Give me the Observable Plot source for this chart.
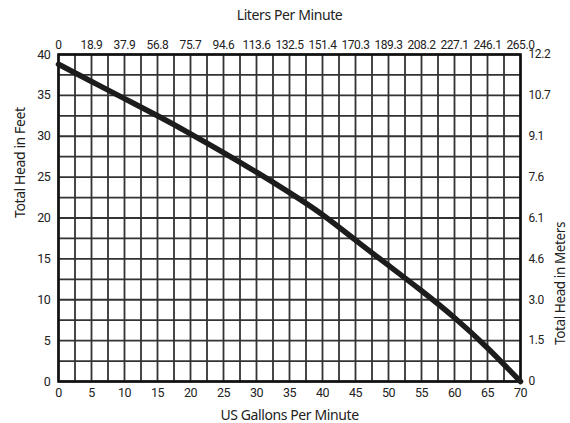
<!DOCTYPE html>
<html>
<head>
<meta charset="utf-8">
<script src="https://cdn.jsdelivr.net/npm/d3@7"></script>
<script src="https://cdn.jsdelivr.net/npm/@observablehq/plot@0.6"></script>
<style>
  html, body { margin: 0; padding: 0; background: #fff; }
  svg { display: block; }
</style>
</head>
<body>
<div id="chart"></div>
<script>
// Pump curve
const gpm  = [0, 5, 10, 15, 20, 25, 30, 35, 40, 45, 50, 55, 60, 65, 70];
const feet = [38.8, 36.7, 34.6, 32.5, 30.3, 28.0, 25.6, 23.1, 20.4, 17.3, 14.2, 11.1, 7.8, 4.1, 0];

// Axis ticks and secondary labels
const gpmTicks = [0, 5, 10, 15, 20, 25, 30, 35, 40, 45, 50, 55, 60, 65, 70];
const literLabels = ["0", "18.9", "37.9", "56.8", "75.7", "94.6", "113.6", "132.5", "151.4", "170.3", "189.3", "208.2", "227.1", "246.1", "265.0"];
const feetTicks = [0, 5, 10, 15, 20, 25, 30, 35, 40];
const meterLabels = ["0", "1.5", "3.0", "4.6", "6.1", "7.6", "9.1", "10.7", "12.2"];

const xGrid = d3.range(0, 70.01, 2.5);
const yGrid = d3.range(0, 40.01, 2.5);

const data = gpm.map((g, i) => ({gpm: g, feet: feet[i]}));

const tickFont = "Roboto, sans-serif";
const titleFont = "'Noto Sans', 'Open Sans', sans-serif";

const chart = Plot.plot({
  width: 570,
  height: 423,
  marginLeft: 58,
  marginRight: 50,
  marginTop: 54,
  marginBottom: 42,
  style: {background: "#fff", fontFamily: tickFont, fontSize: "12px", color: "#222", letterSpacing: "-0.4px"},
  x: {domain: [0, 70]},
  y: {domain: [0, 40]},
  marks: [
    Plot.ruleX(xGrid, {stroke: "#333", strokeWidth: 1.8}),
    Plot.ruleY(yGrid, {stroke: "#333", strokeWidth: 1.8}),
    Plot.frame({stroke: "#111", strokeWidth: 2.6}),
    Plot.line(data, {x: "gpm", y: "feet", curve: "natural", stroke: "#1c1c1c", strokeWidth: 5.5}),
    Plot.axisX(gpmTicks, {anchor: "bottom", tickSize: 0, tickPadding: 7, label: null, fontSize: 12.5}),
    Plot.axisX(gpmTicks, {anchor: "top", tickSize: 0, tickPadding: 6, label: null, fontSize: 12,
      tickFormat: (d) => literLabels[gpmTicks.indexOf(d)]}),
    Plot.axisY(feetTicks, {anchor: "left", tickSize: 0, tickPadding: 8, label: null, fontSize: 12.5}),
    Plot.axisY(feetTicks, {anchor: "right", tickSize: 0, tickPadding: 8, label: null, fontSize: 12,
      tickFormat: (d) => meterLabels[feetTicks.indexOf(d)]}),
    Plot.text(["US Gallons Per Minute"], {frameAnchor: "bottom", dy: 38, fontSize: 14, fontFamily: titleFont, fill: "#222", letterSpacing: "0px"}),
    Plot.text(["Liters Per Minute"], {frameAnchor: "top", dy: -44, fontSize: 14, fontFamily: titleFont, fill: "#222"}),
    Plot.text(["Total Head in Feet"], {frameAnchor: "left", dx: -38, rotate: -90, fontSize: 14, fontFamily: titleFont, fill: "#222"}),
    Plot.text(["Total Head in Meters"], {frameAnchor: "right", dx: 40, dy: 4, rotate: -90, fontSize: 13.5, fontFamily: titleFont, fill: "#222"})
  ]
});
document.getElementById("chart").appendChild(chart);
</script>
</body>
</html>
